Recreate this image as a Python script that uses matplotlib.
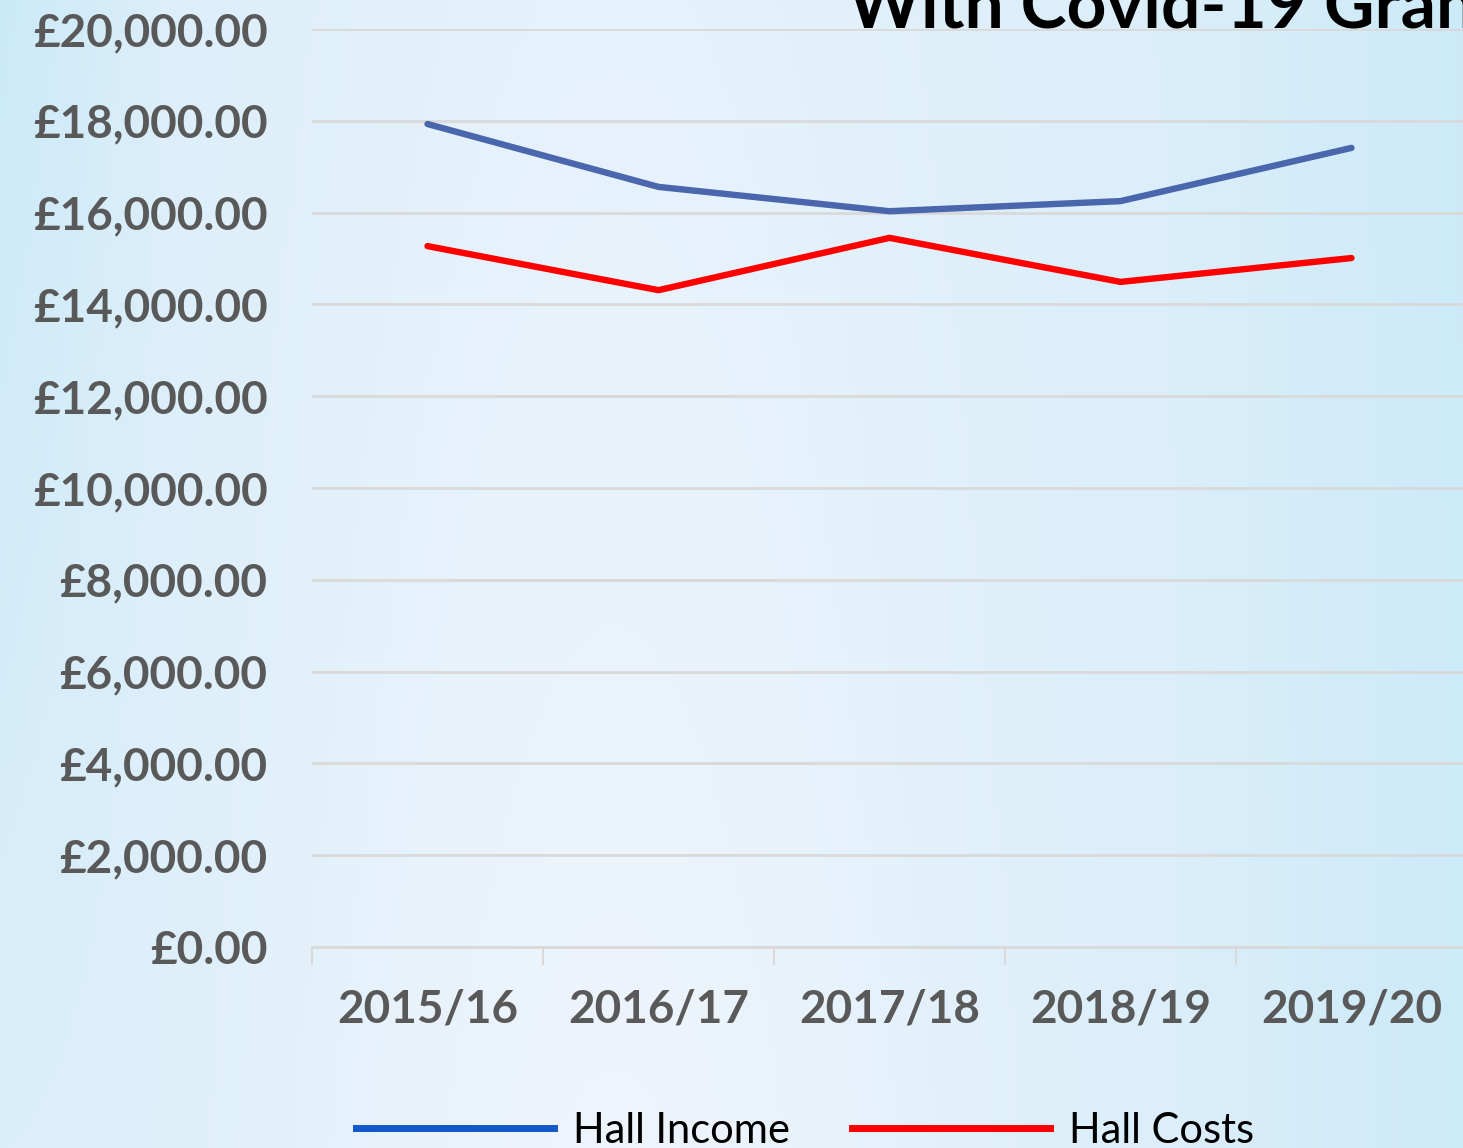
import numpy as np
import matplotlib.pyplot as plt
from matplotlib.lines import Line2D

years = ['2015/16', '2016/17', '2017/18', '2018/19', '2019/20']
hall_income = [17930, 16560, 16030, 16250, 17410]
hall_costs = [15270, 14310, 15450, 14490, 15010]
y_ticks = list(range(0, 20001, 2000))

plt.rcParams['font.family'] = ['Lato', 'DejaVu Sans']

fig = plt.figure(figsize=(14.63, 11.48), dpi=100)

# soft blue background gradient
bg = fig.add_axes([0, 0, 1, 1], zorder=-10)
xx = np.linspace(0, 1, 300)
yy = np.linspace(0, 1, 200)
X, Y = np.meshgrid(xx, yy)
lum = 0.55 - 0.5 * np.exp(-((X - 0.42) ** 2) / 0.07) * (0.6 + 0.4 * Y)
lum = lum + 0.35 * (1 - Y) * np.clip((0.12 - X) / 0.12, 0, 1)
lum = lum + 0.3 * np.clip((X - 0.8) / 0.2, 0, 1)
lum = np.clip(lum, 0, 1)
c1 = np.array([0.94, 0.96, 0.99])
c2 = np.array([0.78, 0.91, 0.97])
img = c1[None, None, :] * (1 - lum[..., None]) + c2[None, None, :] * lum[..., None]
bg.imshow(img, aspect='auto', extent=[0, 1, 0, 1], origin='upper')
bg.axis('off')

ax = fig.add_axes([312 / 1463, 1 - 947 / 1148, 1155 / 1463, 918 / 1148])
ax.patch.set_alpha(0)

x = np.arange(len(years))
ax.plot(x, hall_income, color='#4A66AC', lw=4.6, solid_capstyle='round', zorder=3)
ax.plot(x, hall_costs, color='#FF0000', lw=4.6, solid_capstyle='round', zorder=3)

ax.set_xlim(-0.5, 4.5)
ax.set_ylim(0, 20000)
ax.set_yticks(y_ticks)
ax.set_yticklabels(['£{:,.2f}'.format(v) for v in y_ticks])
ax.set_xticks(x)
ax.set_xticklabels(years)
ax.set_xticks(np.arange(-0.5, 4.6, 1), minor=True)
ax.tick_params(axis='x', which='major', length=0, pad=30)
ax.tick_params(axis='x', which='minor', length=13, width=1.5, color='#D9D9D9')
ax.tick_params(axis='y', length=0, pad=32)
for lbl in ax.get_xticklabels() + ax.get_yticklabels():
    lbl.set_fontsize(33)
    lbl.set_fontweight('bold')
    lbl.set_color('#595959')

ax.grid(axis='y', color='#D9D9D9', lw=2)
ax.set_axisbelow(True)
for s in ['top', 'right', 'left']:
    ax.spines[s].set_visible(False)
ax.spines['bottom'].set_color('#D9D9D9')
ax.spines['bottom'].set_linewidth(2)

fig.text(848 / 1463, 1 - 27 / 1148, 'With Covid-19 Grant', fontsize=50,
         fontweight='bold', color='black', va='baseline', ha='left')

handles = [Line2D([], [], color='#1158C8', lw=5),
           Line2D([], [], color='#FF0000', lw=5)]
fig.legend(handles, ['Hall Income', 'Hall Costs'], loc='center',
           bbox_to_anchor=(805 / 1463, 1 - 1131 / 1148), ncol=2, frameon=False,
           fontsize=30, handlelength=4.75, columnspacing=1.5, handletextpad=0.45)

fig.savefig('out.png', dpi=100)
